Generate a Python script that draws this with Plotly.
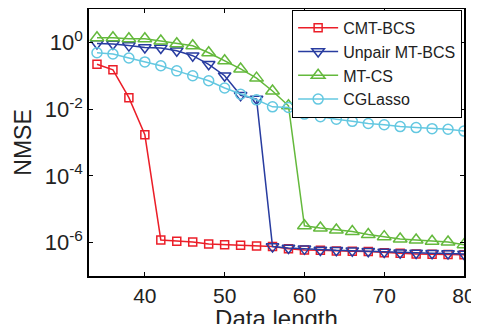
import plotly.graph_objects as go

data_length = [34, 36, 38, 40, 42, 44, 46, 48, 50, 52, 54, 56,
               58, 60, 62, 64, 66, 68, 70, 72, 74, 76, 78, 80]

cmt_bcs = [0.22, 0.15, 0.022, 0.0017, 1.2e-6, 1.1e-6, 1.05e-6, 9.1e-7, 8.7e-7, 8.3e-7, 7.9e-7, 7.6e-7,
           6.5e-7, 6.0e-7, 5.9e-7, 5.6e-7, 5.5e-7, 5.4e-7, 5.0e-7, 4.8e-7, 4.6e-7, 4.5e-7, 4.4e-7, 4.3e-7]
unpair_mt_bcs = [0.92, 0.89, 0.80, 0.70, 0.68, 0.56, 0.40, 0.22, 0.10, 0.026, 0.020, 7.6e-7,
                 6.9e-7, 6.5e-7, 6.0e-7, 5.9e-7, 5.75e-7, 5.5e-7, 5.25e-7, 5.0e-7, 4.9e-7, 4.8e-7, 4.7e-7, 4.55e-7]
mt_cs = [1.38, 1.38, 1.29, 1.29, 1.10, 0.91, 0.79, 0.49, 0.28, 0.16, 0.085, 0.035,
         0.0126, 3.2e-6, 2.75e-6, 2.4e-6, 2.14e-6, 1.74e-6, 1.51e-6, 1.29e-6, 1.2e-6, 1.1e-6, 1.05e-6, 8.7e-7]
cglasso = [0.49, 0.45, 0.34, 0.26, 0.20, 0.14, 0.10, 0.071, 0.043, 0.028, 0.019, 0.0117,
           0.0112, 0.0071, 0.0059, 0.0050, 0.0043, 0.0037, 0.0034, 0.0030, 0.0028, 0.0026, 0.0025, 0.0022]

x_ticks = [40, 50, 60, 70, 80]
y_tickvals = [1e0, 1e-2, 1e-4, 1e-6]
y_ticktext = ["10<sup>0</sup>", "10<sup>-2</sup>", "10<sup>-4</sup>", "10<sup>-6</sup>"]

series = [
    ("CMT-BCS", cmt_bcs, "rgb(235,30,40)", "square-open", 8),
    ("Unpair MT-BCS", unpair_mt_bcs, "rgb(40,60,160)", "triangle-down-open", 11),
    ("MT-CS", mt_cs, "rgb(100,185,60)", "triangle-up-open", 12),
    ("CGLasso", cglasso, "rgb(100,200,225)", "circle-open", 10),
]

fig = go.Figure()
for name, vals, color, sym, size in series:
    fig.add_trace(go.Scatter(
        x=data_length, y=vals, name=name, mode="lines+markers",
        line=dict(color=color, width=1.5),
        marker=dict(symbol=sym, size=size, color=color, line=dict(width=1.5, color=color)),
    ))

font = "Liberation Sans, Arial, sans-serif"
fig.update_layout(
    width=479, height=324,
    margin=dict(l=81, r=23, t=1, b=56, autoexpand=False),
    paper_bgcolor="white", plot_bgcolor="white",
    font=dict(family=font, color="#222222"),
    showlegend=True,
    legend=dict(x=0.995, xanchor="right", y=0.997, yanchor="top",
                bgcolor="white", bordercolor="black", borderwidth=1,
                font=dict(size=16, family=font, color="#222222"),
                tracegroupgap=0, itemwidth=40),
)
fig.update_xaxes(
    range=[33, 80], tickvals=x_ticks, automargin=False,
    ticks="inside", ticklen=4, tickcolor="black",
    showline=True, linecolor="black", linewidth=1.5, mirror="ticks",
    showgrid=False, zeroline=False,
    tickfont=dict(size=21, family=font, color="#222222"),
    title=dict(text="Data length", font=dict(size=24, family=font, color="#222222"), standoff=10),
)
fig.update_yaxes(
    type="log", range=[-7, 1], tickvals=y_tickvals, ticktext=y_ticktext, automargin=False,
    ticks="inside", ticklen=4, tickcolor="black",
    showline=True, linecolor="black", linewidth=1.5, mirror="ticks",
    showgrid=False, zeroline=False,
    tickfont=dict(size=22, family=font, color="#222222"),
    title=dict(text="NMSE", font=dict(size=23, family=font, color="#222222"), standoff=7),
)

fig.write_html("out.html")
